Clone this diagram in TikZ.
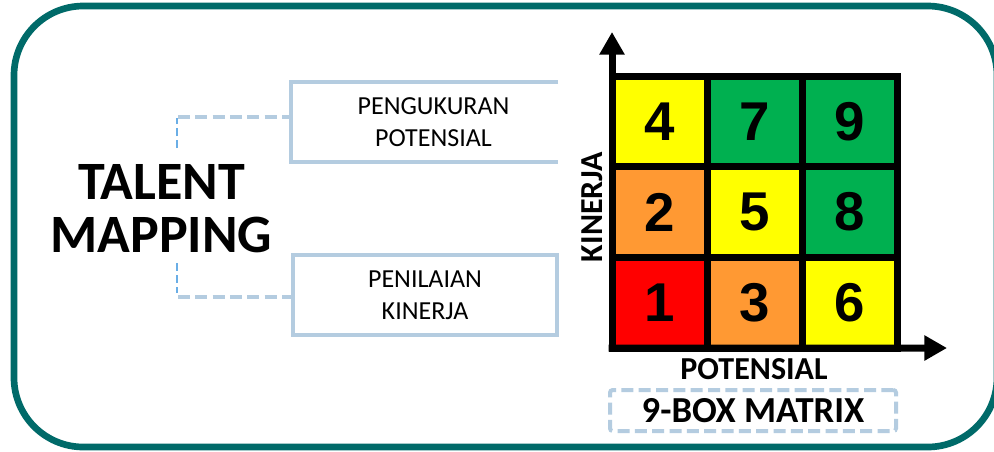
\documentclass[tikz,border=0pt]{standalone}
\usepackage{fontspec}
\setmainfont{Carlito}
\newfontfamily\digitfont{Liberation Sans}
\usetikzlibrary{arrows.meta}
\definecolor{frameteal}{HTML}{006A69}
\definecolor{palesteel}{HTML}{B4CCE0}
\definecolor{linkblue}{HTML}{6AAEE6}
\definecolor{cellyellow}{HTML}{FFFF00}
\definecolor{cellgreen}{HTML}{00B050}
\definecolor{cellorange}{HTML}{FF9933}
\definecolor{cellred}{HTML}{FF0000}

\begin{document}
\begin{tikzpicture}[x=0.75pt,y=-0.75pt,
  cell/.style={draw=black, line width=5.25pt, minimum width=71.25pt,
    minimum height=68pt, inner sep=0pt, outer sep=0pt,
    font=\digitfont\bfseries\fontsize{41}{41}\selectfont},
  axis/.style={line width=5.25pt, -{Triangle[length=17pt,width=18pt]}},
  frameline/.style={draw=palesteel, line width=3pt},
  boxtext/.style={align=center, inner sep=0pt,
    font=\fontsize{19.5}{24}\selectfont},
  stub/.style={draw=linkblue, line width=1.6pt, dash pattern=on 6pt off 3pt},
  link/.style={draw=palesteel, line width=3pt, dash pattern=on 9pt off 4pt},
  axislabel/.style={inner sep=0pt, font=\bfseries\fontsize{24}{24}\selectfont},
]
\useasboundingbox (0,0) rectangle (994,451);
\fill[white] (0,0) rectangle (994,451);

% outer rounded frame
\draw[frameteal, line width=5pt, rounded corners=52pt] (14,6) rectangle (997,447);

% title
\node[align=center, inner sep=0pt, font=\bfseries\fontsize{40.5}{40}\selectfont]
  (title) at (161.5,208.5) {TALENT\\MAPPING};

% upper box: open on its right side
\coordinate (pNE) at (558,82);
\coordinate (pNW) at (291,82);
\coordinate (pSW) at (291,162);
\coordinate (pSE) at (558,162);
\coordinate (pIn) at (291,117);
\draw[frameline] (pNE) -- (pNW) -- (pSW) -- (pSE);
\node[boxtext] (pengukuran) at (433.5,122.5) {PENGUKURAN\\POTENSIAL};

% lower box
\node[frameline, boxtext, minimum width=198pt, minimum height=60pt]
  (penilaian) at (425,295) {PENILAIAN\\KINERJA};

% dashed connectors from the title
\coordinate (s1a) at (177,148);
\coordinate (s1b) at (177,118);
\coordinate (l1) at (178,117);
\draw[stub] (s1a) -- (s1b);
\draw[link] (l1) -- (pIn);

\coordinate (s2a) at (177,263);
\coordinate (s2b) at (177,293);
\coordinate (l2) at (178,297);
\draw[stub] (s2a) -- (s2b);
\draw[link] (l2) -- (penilaian.west |- l2);

% 9-box grid
\node[cell, fill=cellyellow] (c4) at (659.5,121.33) {4};
\node[cell, fill=cellgreen]  (c7) at (754.5,121.33) {7};
\node[cell, fill=cellgreen]  (c9) at (849.5,121.33) {9};
\node[cell, fill=cellorange] (c2) at (659.5,212) {2};
\node[cell, fill=cellyellow] (c5) at (754.5,212) {5};
\node[cell, fill=cellgreen]  (c8) at (849.5,212) {8};
\node[cell, fill=cellred]    (c1) at (659.5,302.67) {1};
\node[cell, fill=cellorange] (c3) at (754.5,302.67) {3};
\node[cell, fill=cellyellow] (c6) at (849.5,302.67) {6};

% axes
\coordinate (ytip) at (612,32);
\coordinate (xtip) at (947,348);
\draw[axis] ([yshift=-2.6pt]c1.south west) -- (ytip);
\draw[axis] ([xshift=-2.6pt]c1.south west) -- (xtip);

\node[axislabel, rotate=90] (kinerja) at (592,207) {KINERJA};
\node[axislabel] (potensial) at (754,369) {POTENSIAL};

% caption box
\node[draw=palesteel, line width=3pt, dash pattern=on 9pt off 4pt,
  rounded corners=2pt, minimum width=214.5pt, minimum height=30.75pt,
  inner sep=0pt, font=\bfseries\fontsize{27.5}{27.5}\selectfont]
  (ninebox) at (753,410.5) {9-BOX MATRIX};
\end{tikzpicture}
\end{document}
